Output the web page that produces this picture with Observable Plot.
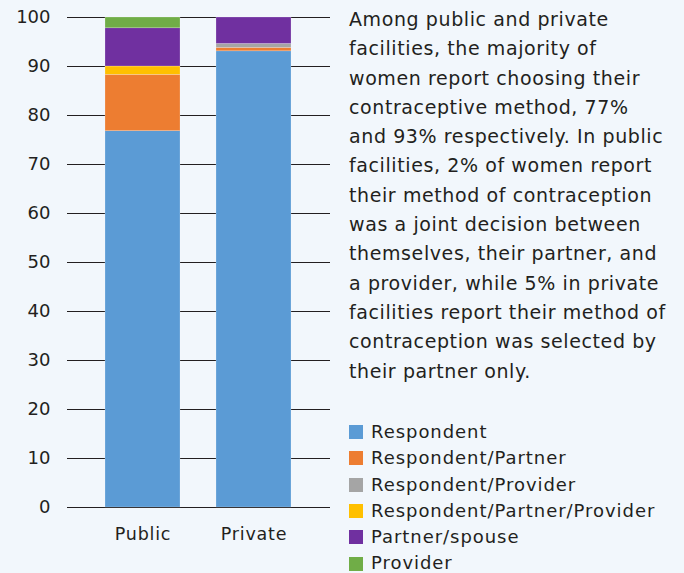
<!DOCTYPE html>
<html>
<head>
<meta charset="utf-8">
<script src="https://cdn.jsdelivr.net/npm/d3@7"></script>
<script src="https://cdn.jsdelivr.net/npm/@observablehq/plot@0.6"></script>
<style>
  html, body { margin: 0; padding: 0; background: #f2f7fc; }
  #wrap { position: relative; width: 684px; height: 573px; background: #f2f7fc; font-family: "DejaVu Sans", sans-serif; color: #231f20; overflow: hidden; }
  #chart { position: absolute; left: 0; top: 0; }
  #desc { position: absolute; left: 349px; top: 5px; font-size: 19px; line-height: 29.3px; letter-spacing: 0.6px; white-space: nowrap; }
  #legend { position: absolute; left: 349px; top: 419px; font-size: 18px; line-height: 26.3px; letter-spacing: 0.95px; white-space: nowrap; }
  #legend .item { display: flex; align-items: center; }
  #legend .sw { width: 14px; height: 14px; margin-right: 8px; display: inline-block; }
  #chart svg g[aria-label="x-axis tick label"] text { letter-spacing: 0.8px; }
</style>
</head>
<body>
<div id="wrap">
  <div id="chart"></div>
  <div id="desc"></div>
  <div id="legend"></div>
</div>
<script>
const facilities = ["Public", "Private"];
const categories = ["Respondent", "Respondent/Partner", "Respondent/Provider", "Respondent/Partner/Provider", "Partner/spouse", "Provider"];
const colors = ["#5b9bd5", "#ed7d31", "#a5a5a5", "#ffc000", "#7030a0", "#70ad47"];
const publicValues = [76.8, 11.5, 0, 1.7, 7.8, 2.2];
const privateValues = [93.1, 0.7, 0.8, 0, 5.4, 0];
const yTicks = [0, 10, 20, 30, 40, 50, 60, 70, 80, 90, 100];
const descLines = [
  "Among public and private",
  "facilities, the majority of",
  "women report choosing their",
  "contraceptive method, 77%",
  "and 93% respectively. In public",
  "facilities, 2% of women report",
  "their method of contraception",
  "was a joint decision between",
  "themselves, their partner, and",
  "a provider, while 5% in private",
  "facilities report their method of",
  "contraception was selected by",
  "their partner only."
];

const data = [];
categories.forEach((c, i) => {
  data.push({facility: "Public", category: c, value: publicValues[i]});
  data.push({facility: "Private", category: c, value: privateValues[i]});
});

const chart = Plot.plot({
  width: 340,
  height: 573,
  marginLeft: 67,
  marginRight: 10,
  marginTop: 17,
  marginBottom: 66,
  style: { background: "transparent", fontFamily: "DejaVu Sans, sans-serif", fontSize: "18px", color: "#231f20" },
  x: { domain: facilities, paddingInner: 0.32, paddingOuter: 0.34, label: null },
  y: { domain: [0, 100], label: null },
  color: { domain: categories, range: colors },
  marks: [
    Plot.ruleY(yTicks, { stroke: "#231f20", strokeWidth: 1 }),
    Plot.barY(data, { x: "facility", y: "value", fill: "category", stroke: "#ffffff", strokeOpacity: 0.35, strokeWidth: 0.6 }),
    Plot.axisY(yTicks, { tickSize: 0, tickPadding: 17, fontSize: 18, fill: "#231f20" }),
    Plot.axisX({ tickSize: 0, tickPadding: 20, fontSize: 17.5, fill: "#231f20" })
  ]
});
document.getElementById("chart").appendChild(chart);

document.getElementById("desc").innerHTML = descLines.join("<br>");

const legend = document.getElementById("legend");
categories.forEach((c, i) => {
  const d = document.createElement("div");
  d.className = "item";
  d.innerHTML = `<span class="sw" style="background:${colors[i]}"></span><span>${c}</span>`;
  legend.appendChild(d);
});
</script>
</body>
</html>
